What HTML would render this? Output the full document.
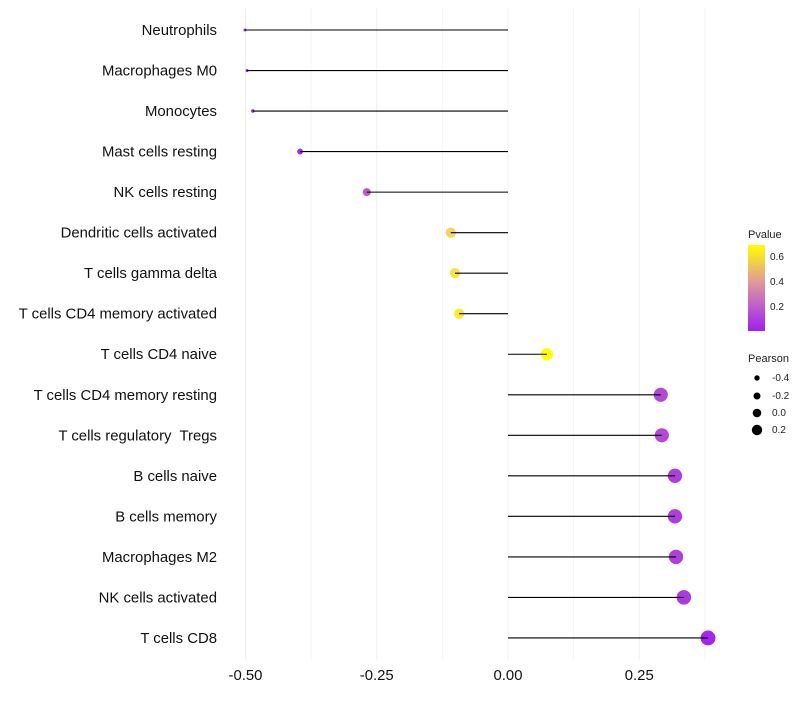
<!DOCTYPE html>
<html><head><meta charset="utf-8"><style>
body{margin:0;background:#fff;font-family:"Liberation Sans",sans-serif}
text{white-space:pre}
</style></head><body>
<svg id="chart" width="800" height="700" xmlns="http://www.w3.org/2000/svg">
<defs><linearGradient id="pg" x1="0" y1="1" x2="0" y2="0">
<stop offset="0" stop-color="#a020f0"/><stop offset="0.3" stop-color="#c060c8"/><stop offset="0.6" stop-color="#e4a090"/><stop offset="1" stop-color="#ffff00"/></linearGradient></defs>
<g id="grid"></g>
<g id="marks"></g>
<g id="ylabels"></g>
<g id="xlabels"></g>
<g font-size="10" fill="#222">
<text x="748" y="238" font-size="11">Pvalue</text>
<rect x="748" y="245" width="17" height="86" fill="url(#pg)"/>
<text x="770" y="260">0.6</text>
<text x="770" y="285">0.4</text>
<text x="770" y="310">0.2</text>
</g>
<g font-size="10" fill="#222">
<text x="748" y="362" font-size="11">Pearson</text>
<circle cx="757" cy="378" r="2.7" fill="#000"/>
<circle cx="757" cy="396" r="3.5" fill="#000"/>
<circle cx="757" cy="413" r="4.3" fill="#000"/>
<circle cx="757" cy="430" r="5.2" fill="#000"/>
<text x="772" y="381">-0.4</text>
<text x="772" y="399">-0.2</text>
<text x="772" y="416">0.0</text>
<text x="772" y="433">0.2</text>
</g>
</svg>
<script>
const categories=["Neutrophils","Macrophages M0","Monocytes","Mast cells resting","NK cells resting","Dendritic cells activated","T cells gamma delta","T cells CD4 memory activated","T cells CD4 naive","T cells CD4 memory resting","T cells regulatory  Tregs","B cells naive","B cells memory","Macrophages M2","NK cells activated","T cells CD8"];
const pearson=[-0.501,-0.497,-0.486,-0.396,-0.269,-0.109,-0.101,-0.093,0.074,0.291,0.293,0.318,0.318,0.320,0.335,0.381];
const pvalues=[0.0,0.0,0.01,0.03,0.2,0.55,0.6,0.63,0.7,0.13,0.13,0.1,0.1,0.1,0.08,0.02];
const xTicks=[-0.5,-0.25,0,0.25];
const xTickLabels=["-0.50","-0.25","0.00","0.25"];
const NS="http://www.w3.org/2000/svg";
const xs=v=>508+v*525;
const ys=i=>30+i*40.53;
const rs=v=>Math.sqrt(2.25+(v+0.5)/0.88*53);
function col(p){const t=Math.max(0,Math.min(1,p/0.7));
 const stops=[[0,[160,32,240]],[0.3,[192,96,200]],[0.6,[228,160,144]],[0.8,[245,215,95]],[1,[255,255,0]]];
 for(let k=1;k<stops.length;k++){if(t<=stops[k][0]){const a=stops[k-1],b=stops[k],f=(t-a[0])/(b[0]-a[0]);
 return "rgb("+a[1].map((c,j)=>Math.round(c+(b[1][j]-c)*f)).join(",")+")";}}return "rgb(255,255,0)";}
function mk(tag,at,parent){const e=document.createElementNS(NS,tag);for(const k in at)e.setAttribute(k,at[k]);parent.appendChild(e);return e;}
const grid=document.getElementById("grid"),marks=document.getElementById("marks"),yl=document.getElementById("ylabels"),xl=document.getElementById("xlabels");
[-0.5,-0.375,-0.25,-0.125,0,0.125,0.25,0.375].forEach(v=>{const l=mk("line",{x1:xs(v),x2:xs(v),y1:8,y2:660,stroke:"#f0f0f0","stroke-width":v*8%2===0?1:0.6},grid);

});
categories.forEach((c,i)=>{
 const pt=mk("circle",{cx:xs(pearson[i]),cy:ys(i),r:rs(pearson[i]),fill:col(pvalues[i])},marks);
 
 
 const ln=mk("line",{x1:xs(0),x2:xs(pearson[i]),y1:ys(i),y2:ys(i),stroke:"#000","stroke-width":1.1},marks);
 
 
 const t=mk("text",{x:217,y:ys(i)+5,"text-anchor":"end","font-size":14.9,fill:"#111"},yl);
 t.textContent=c;
 
 
});
xTicks.forEach((v,i)=>{const t=mk("text",{x:xs(v),y:680,"text-anchor":"middle","font-size":14.9,fill:"#111"},xl);
 t.textContent=xTickLabels[i];
 
 });
</script>
</body></html>
